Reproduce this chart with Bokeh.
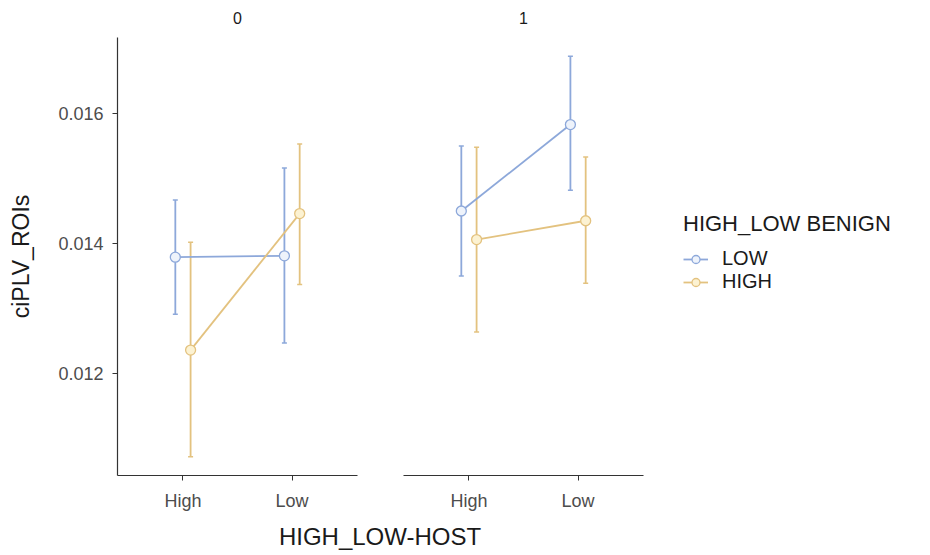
from bokeh.plotting import figure
from bokeh.models import (ColumnDataSource, FactorRange, Range1d, FixedTicker,
                          NumeralTickFormatter, Whisker, TeeHead, Legend, LegendItem, Div)
from bokeh.transform import dodge
from bokeh.layouts import row, column
from bokeh.embed import file_html
from bokeh.resources import INLINE

# ---------------- data ----------------
hosts = ["High", "Low"]          # HIGH_LOW-HOST
facets = ["0", "1"]              # facet strips
benign_levels = ["LOW", "HIGH"]  # HIGH_LOW BENIGN

# facet 0
low_mean_0 = [0.01379, 0.01381]
low_lo_0 = [0.01291, 0.01247]
low_hi_0 = [0.01467, 0.01516]
high_mean_0 = [0.01236, 0.01446]
high_lo_0 = [0.01072, 0.01337]
high_hi_0 = [0.01402, 0.01553]
# facet 1
low_mean_1 = [0.01450, 0.01583]
low_lo_1 = [0.01350, 0.01482]
low_hi_1 = [0.01550, 0.01688]
high_mean_1 = [0.01406, 0.01435]
high_lo_1 = [0.01264, 0.01339]
high_hi_1 = [0.01548, 0.01533]

y_ticks = [0.012, 0.014, 0.016]
y_min, y_max = 0.01043, 0.01717

# ---------------- style ----------------
FONT = "Liberation Sans"
COLORS = {"LOW": "#8DA8DA", "HIGH": "#E3C27F"}
FILLS = {"LOW": "#EEF3FB", "HIGH": "#FCF2D2"}
OFFSETS = {"LOW": -0.07, "HIGH": 0.07}

panel_data = {
    "0": {"LOW": (low_mean_0, low_lo_0, low_hi_0), "HIGH": (high_mean_0, high_lo_0, high_hi_0)},
    "1": {"LOW": (low_mean_1, low_lo_1, low_hi_1), "HIGH": (high_mean_1, high_lo_1, high_hi_1)},
}


def make_panel(facet, show_y):
    p = figure(
        x_range=FactorRange(factors=hosts, range_padding=0.1, range_padding_units="absolute"),
        y_range=Range1d(y_min, y_max),
        frame_width=240, frame_height=438,
        output_backend="svg", toolbar_location=None,
        y_axis_location="left" if show_y else None,
        title=facet,
    )
    p.title.align = "center"
    p.title.vertical_align = "top"
    p.title.text_font = FONT
    p.title.text_font_size = "16px"
    p.title.text_font_style = "normal"
    p.title.text_color = "#1A1A1A"
    p.title.standoff = 23
    p.min_border_top = 37
    p.min_border_bottom = 40
    p.outline_line_color = None
    p.xgrid.visible = False
    p.ygrid.visible = False
    p.background_fill_color = "white"
    p.border_fill_color = "white"

    for ax in p.xaxis:
        ax.axis_line_color = "#333333"
        ax.axis_line_width = 1.2
        ax.major_tick_line_color = "#333333"
        ax.major_tick_out = 5
        ax.major_tick_in = 0
        ax.major_label_standoff = 10
        ax.major_label_text_font = FONT
        ax.major_label_text_font_size = "18px"
        ax.major_label_text_color = "#4D4D4D"
    if show_y:
        ax = p.yaxis[0]
        ax.ticker = FixedTicker(ticks=y_ticks)
        ax.formatter = NumeralTickFormatter(format="0.000")
        ax.minor_tick_line_color = None
        ax.axis_line_color = "#333333"
        ax.axis_line_width = 1.2
        ax.major_tick_line_color = "#333333"
        ax.major_tick_out = 5
        ax.major_tick_in = 0
        ax.major_label_standoff = 9
        ax.major_label_text_font = FONT
        ax.major_label_text_font_size = "18px"
        ax.major_label_text_color = "#4D4D4D"
        ax.axis_label = "ciPLV_ROIs"
        ax.axis_label_text_font = FONT
        ax.axis_label_text_font_size = "23px"
        ax.axis_label_text_font_style = "normal"
        ax.axis_label_text_color = "#1A1A1A"
        ax.axis_label_standoff = 21

    rends = {}
    for lvl in benign_levels:
        mean, lo, hi = panel_data[facet][lvl]
        src = ColumnDataSource(dict(host=hosts, mean=mean, lo=lo, hi=hi))
        xs = dodge("host", OFFSETS[lvl], range=p.x_range)
        col = COLORS[lvl]
        w = Whisker(base=xs, upper="hi", lower="lo", source=src,
                    line_color=col, line_width=1.8,
                    upper_head=TeeHead(size=5, line_color=col, line_width=1.5),
                    lower_head=TeeHead(size=5, line_color=col, line_width=1.5))
        p.add_layout(w)
        ln = p.line(x=xs, y="mean", source=src, line_color=col, line_width=1.8)
        pt = p.scatter(x=xs, y="mean", source=src, size=10, marker="circle",
                       fill_color=FILLS[lvl], line_color=col, line_width=1.3)
        rends[lvl] = (ln, pt)
    return p, rends


p1, _ = make_panel("0", True)
p1.min_border_left = 117
p1.min_border_right = 23

p2, rends2 = make_panel("1", False)
p2.min_border_left = 23
p2.min_border_right = 280

legend = Legend(
    items=[LegendItem(label=lvl, renderers=list(rends2[lvl])) for lvl in benign_levels],
    title="HIGH_LOW BENIGN",
    location=(40, 182),
    title_text_font=FONT, title_text_font_size="22px", title_text_font_style="normal",
    title_text_color="#1A1A1A", title_standoff=10,
    label_text_font=FONT, label_text_font_size="20px", label_text_color="#1A1A1A",
    glyph_width=25, glyph_height=20, label_height=20, label_standoff=14,
    spacing=0, padding=0, margin=0,
    border_line_alpha=0, background_fill_alpha=0,
)
p2.add_layout(legend, "right")

xtitle = Div(
    text="HIGH_LOW-HOST", width=760, height=32, margin=(8, 0, 0, 0),
    styles={"font-family": FONT, "font-size": "24px", "text-align": "center",
            "color": "#1A1A1A", "line-height": "28px", "width": "760px"},
)

layout = column(row(p1, p2, spacing=0), xtitle, spacing=0)
open("out.html", "w").write(file_html(layout, INLINE))
